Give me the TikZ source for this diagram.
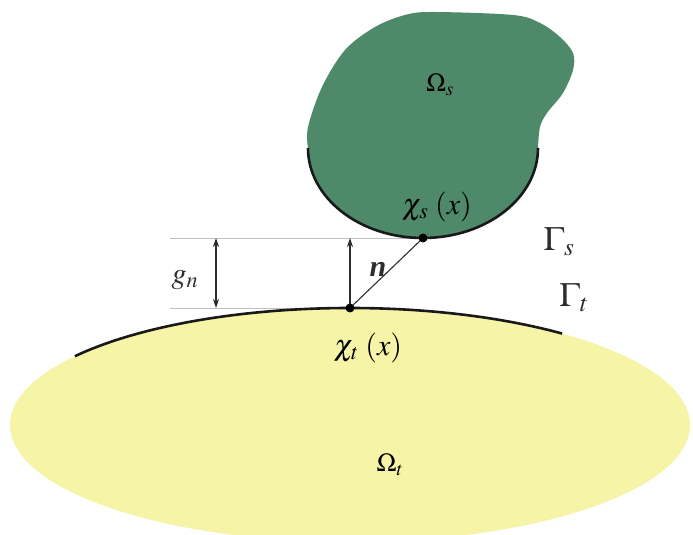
\documentclass[tikz,border=0pt]{standalone}
\usepackage{mathptmx}
\usepackage{fontspec}
\setmainfont{Liberation Serif}
\usetikzlibrary{arrows.meta}
\definecolor{yel}{RGB}{246,244,166}
\definecolor{grn}{RGB}{78,138,106}
\definecolor{ink}{RGB}{45,45,45}
\begin{document}
\begin{tikzpicture}[x=1pt,y=1pt,
  lbl/.style={inner sep=0pt,text=ink,font=\fontsize{30}{34}\selectfont},
  bnd/.style={line width=2.6pt,draw=black!90},
  guide/.style={draw=black!25,line width=0.8pt},
  dimarrow/.style={draw=ink,line width=1.1pt,-{Stealth[length=9pt,width=6pt]}},
  dotfill/.style={fill=black}]
\useasboundingbox (0,0) rectangle (693,535);
% target body
\fill[yel] (350,110) ellipse [x radius=340pt, y radius=117pt];
% slave body
\fill[grn] (538,387) arc[start angle=0,end angle=-180,x radius=115pt,y radius=90pt]
  -- plot[smooth,tension=0.55] coordinates {(308,387) (308,408) (322,448) (345,485) (375,508) (405,520) (433,523) (513,520) (540,512) (560,498) (573,482) (573,465) (563,442) (547,422) (540,408) (538,387)} -- cycle;
% points
\coordinate (ct) at (350,227);
\coordinate (cs) at (423,297);
\coordinate (ctop) at (350,297);
\coordinate (gl1) at (170,297);
\coordinate (gl2) at (170,227);
\coordinate (ga) at (216,297);
\coordinate (gb) at (216,227);
% guide lines
\draw[guide] (gl1) -- (cs);
\draw[guide] (gl2) -- (ct);
% boundaries
\draw[bnd] (538,387) arc[start angle=0,end angle=-180,x radius=115pt,y radius=90pt];
\draw[bnd] (350,110) ++(144:340pt and 117pt) arc[start angle=144,end angle=51.4,x radius=340pt,y radius=117pt];
% gap arrows
\draw[dimarrow,{Stealth[length=9pt,width=6pt]}-{Stealth[length=9pt,width=6pt]}] (ga) -- (gb);
\draw[dimarrow] (ct) -- (ctop);
\draw[draw=ink,line width=1.1pt] (ct) -- (cs);
\fill[dotfill] (ct) circle (4.5pt);
\fill[dotfill] (cs) circle (4.5pt);
% labels
\node[lbl] (gn) at (185,255) {$g_n$};
\node[lbl] (nn) at (378,266) {\bfseries\itshape n};
\node[lbl,text=black] (xs) at (437,328) {$\chi_s\;(x)$};
\node[lbl,text=black] (xt) at (368,187) {$\chi_t\;(x)$};
\node[lbl,font=\fontsize{34}{38}\selectfont] (gs) at (559,293) {$\Gamma_s$};
\node[lbl,font=\fontsize{34}{38}\selectfont] (gt) at (574,237) {$\Gamma_t$};
\node[lbl,text=black,font=\fontsize{26}{30}\selectfont] (os) at (440,450) {$\Omega_s$};
\node[lbl,text=black,font=\fontsize{26}{30}\selectfont] (ot) at (390,70) {$\Omega_t$};
\end{tikzpicture}
\end{document}
